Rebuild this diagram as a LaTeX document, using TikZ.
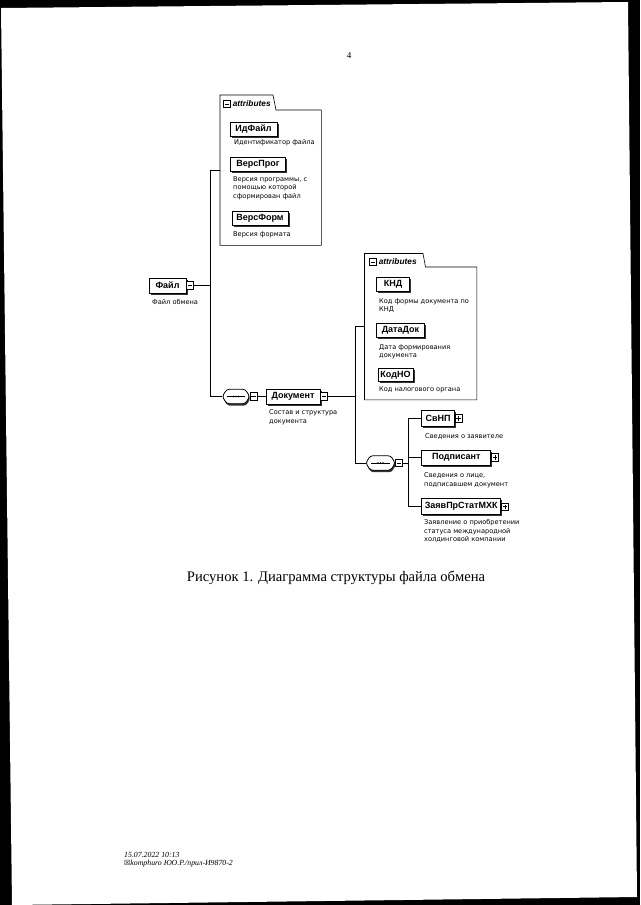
\documentclass[tikz,border=0pt]{standalone}
\usepackage{fontspec}
\setmainfont{Liberation Serif}
\setsansfont{Liberation Sans}
\newfontfamily\descfont{DejaVu Sans}
\usetikzlibrary{shadows}
\newcommand\seqpath[3]{([xshift=#2,yshift=#3]#1.west) -- ([xshift=#2+4.5pt,yshift=#3]#1.north west) -- ([xshift=#2-4.5pt,yshift=#3]#1.north east) -- ([xshift=#2,yshift=#3]#1.east) -- ([xshift=#2-4.5pt,yshift=#3]#1.south east) -- ([xshift=#2+4.5pt,yshift=#3]#1.south west) -- cycle}
\begin{document}
\begin{tikzpicture}[x=1pt,y=-1pt,
  conn/.style={line width=0.8pt},
  elem/.style={draw, line width=0.8pt, fill=white, inner sep=0pt,
    font=\sffamily\bfseries\fontsize{9}{10}\selectfont,
    drop shadow={shadow xshift=1.6pt, shadow yshift=-1.6pt, fill=black!80, opacity=1}},
  pmbox/.style={draw, line width=0.6pt, fill=white, minimum width=7pt, minimum height=7.5pt, inner sep=0pt, anchor=west},
  minusbox/.style={pmbox, path picture={\draw[line width=0.6pt] ([xshift=-2.2pt]path picture bounding box.center) -- ([xshift=2.2pt]path picture bounding box.center);}},
  plusbox/.style={pmbox, path picture={\draw[line width=0.6pt] ([xshift=-2.2pt]path picture bounding box.center) -- ([xshift=2.2pt]path picture bounding box.center) ([yshift=-2.2pt]path picture bounding box.center) -- ([yshift=2.2pt]path picture bounding box.center);}},
  desc/.style={anchor=north west, align=left, inner sep=0pt, font=\descfont\fontsize{6.6}{8.4}\selectfont},
  attrbox/.style={anchor=north west, inner sep=0pt},
  attrline/.style={line width=0.6pt},
  tabtxt/.style={anchor=west, inner sep=0pt, font=\sffamily\bfseries\itshape\fontsize{8.3}{9}\selectfont},
  seqbox/.style={inner sep=0pt, minimum width=27pt, minimum height=14pt},
  seqshadow/.style={fill=black!80, rounded corners=2.5pt},
  seqframe/.style={draw, line width=0.8pt, fill=white, rounded corners=2.5pt},
  seqline/.style={line width=0.7pt}
]
\useasboundingbox (0,0) rectangle (640,905);
% scanned page
\fill[black] (0,0) rectangle (640,905);
\fill[white] (1,8) -- (628,2) -- (637,897) -- (12,905) -- cycle;

\node[font=\rmfamily\fontsize{9}{10}\selectfont, inner sep=0pt] (pnum) at (349,56) {4};

% ---------- Файл ----------
\node[elem, minimum width=37pt, minimum height=15pt] (fajl) at (167.5,285.5) {Файл};
\node[minusbox] (fm) at (fajl.east) {};
\node[desc] (dfajl) at (152,299.5) {Файл обмена};

% ---------- attributes of Файл ----------
\node[attrbox, minimum width=101pt, minimum height=150pt] (attrA) at (220,95) {};
\draw[attrline, fill=white] (attrA.north west) -- ([xshift=53pt]attrA.north west) -- ([xshift=56pt,yshift=-15pt]attrA.north west) -- ([yshift=-15pt]attrA.north east) -- (attrA.south east) -- (attrA.south west) -- cycle;
\node[minusbox, anchor=center] (amA) at ([xshift=7pt,yshift=-9pt]attrA.north west) {};
\node[tabtxt] (tA) at ([xshift=1.8pt]amA.east) {attributes};

\node[elem, minimum width=47pt, minimum height=14pt] (idf) at (253.5,129) {ИдФайл};
\node[desc] (didf) at (234,139.5) {Идентификатор файла};
\node[elem, minimum width=55pt, minimum height=14pt] (vprog) at (258,164) {ВерсПрог};
\node[desc] (dvprog) at (233,176.5) {Версия программы, с\\помощью которой\\сформирован файл};
\node[elem, minimum width=56pt, minimum height=13.5pt] (vform) at (260,218.3) {ВерсФорм};
\node[desc] (dvform) at (233,231.5) {Версия формата};

% ---------- sequence 1 ----------
\node[seqbox] (seqA) at (236,396.5) {};
\fill[seqshadow] \seqpath{seqA}{0.8pt}{-2pt};
\draw[seqframe] \seqpath{seqA}{0pt}{0pt};
\draw[seqline] ([xshift=5pt]seqA.west) -- ([xshift=-5pt]seqA.east);
\foreach \dx in {-2.6,0,2.6} \fill ([xshift=\dx pt]seqA.center) circle (0.9pt);
\node[minusbox] (smA) at (seqA.east) {};

% ---------- Документ ----------
\node[elem, minimum width=54pt, minimum height=15pt] (dok) at (293,396.5) {Документ};
\node[minusbox] (dm) at (dok.east) {};
\node[desc] (ddok) at (269,409.5) {Состав и структура\\документа};

% ---------- attributes of Документ ----------
\node[attrbox, minimum width=112pt, minimum height=146pt] (attrB) at (364.5,253.5) {};
\draw[attrline, fill=white] (attrB.north west) -- ([xshift=58.5pt]attrB.north west) -- ([xshift=61pt,yshift=-13.5pt]attrB.north west) -- ([yshift=-13.5pt]attrB.north east) -- (attrB.south east) -- (attrB.south west) -- cycle;
\node[minusbox, anchor=center] (amB) at ([xshift=8.5pt,yshift=-8.5pt]attrB.north west) {};
\node[tabtxt] (tB) at ([xshift=1.8pt]amB.east) {attributes};

\node[elem, minimum width=33pt, minimum height=14pt] (knd) at (393,284.5) {КНД};
\node[desc] (dknd) at (379,298) {Код формы документа по\\КНД};
\node[elem, minimum width=48pt, minimum height=14pt] (ddate) at (400.5,330.3) {ДатаДок};
\node[desc] (dddate) at (379,344.5) {Дата формирования\\документа};
\node[elem, minimum width=35pt, minimum height=13.5pt] (kodno) at (395.5,375) {КодНО};
\node[desc] (dkodno) at (379,386.5) {Код налогового органа};

% ---------- sequence 2 ----------
\node[seqbox, minimum width=29pt] (seqB) at (380.5,463) {};
\fill[seqshadow] \seqpath{seqB}{0.8pt}{-2pt};
\draw[seqframe] \seqpath{seqB}{0pt}{0pt};
\draw[seqline] ([xshift=5pt]seqB.west) -- ([xshift=-5pt]seqB.east);
\foreach \dx in {-2.6,0,2.6} \fill ([xshift=\dx pt]seqB.center) circle (0.9pt);
\node[minusbox] (smB) at (seqB.east) {};

% ---------- children ----------
\node[elem, minimum width=32.5pt, minimum height=15.5pt] (svnp) at (438,418.3) {СвНП};
\node[plusbox] (psvnp) at (svnp.east) {};
\node[desc] (dsvnp) at (425,433) {Сведения о заявителе};
\node[elem, minimum width=69pt, minimum height=15pt] (podp) at (456.3,457.5) {Подписант};
\node[plusbox] (ppodp) at (podp.east) {};
\node[desc] (dpodp) at (424,472.5) {Сведения о лице,\\подписавшем документ};
\node[elem, minimum width=79pt, minimum height=16pt] (zayav) at (461.2,506.7) {ЗаявПрСтатМХК};
\node[plusbox] (pzayav) at (zayav.east) {};
\node[desc] (dzayav) at (424,519.5) {Заявление о приобретении\\статуса международной\\холдинговой компании};

% ---------- connectors ----------
\coordinate (j1) at (210,0);
\coordinate (j2) at (355,0);
\coordinate (j3) at (408,0);
\draw[conn] (fm.east) -- (fm.east -| j1);
\draw[conn] (attrA.west -| j1) -- (seqA.west -| j1);
\draw[conn] (attrA.west -| j1) -- (attrA.west);
\draw[conn] (seqA.west -| j1) -- (seqA.west);
\draw[conn] (smA.east) -- (dok.west);
\draw[conn] (dm.east) -- (dm.east -| j2);
\draw[conn] (attrB.west -| j2) -- (seqB.west -| j2);
\draw[conn] (attrB.west -| j2) -- (attrB.west);
\draw[conn] (seqB.west -| j2) -- (seqB.west);
\draw[conn] (smB.east) -- (smB.east -| j3);
\draw[conn] (svnp.west -| j3) -- (zayav.west -| j3);
\draw[conn] (svnp.west -| j3) -- (svnp.west);
\draw[conn] (podp.west -| j3) -- (podp.west);
\draw[conn] (zayav.west -| j3) -- (zayav.west);

% ---------- caption ----------
\node[font=\rmfamily\fontsize{14.6}{16}\selectfont, inner sep=0pt] (cap) at (336,578) {Рисунок 1. Диаграмма структуры файла обмена};

% ---------- footer ----------
\node[anchor=north west, align=left, inner sep=0pt, font=\rmfamily\itshape\fontsize{7.8}{7.8}\selectfont] (foot) at (124,852) {15.07.2022 10:13\\{\descfont\fontsize{7}{7}\selectfont ☒}komphuro ЮО.Р./прил-И9870-2};
\end{tikzpicture}
\end{document}
